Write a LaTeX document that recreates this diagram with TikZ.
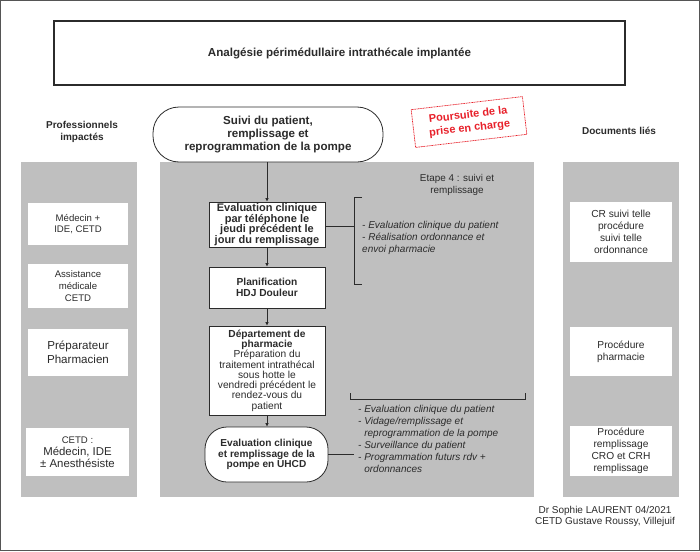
\documentclass[tikz,border=0pt]{standalone}
\usepackage{fontspec}
\setmainfont{Liberation Sans}
\usetikzlibrary{arrows.meta}
\definecolor{panel}{HTML}{BFBFBF}
\definecolor{ink}{HTML}{2B2B2B}
\definecolor{frame}{HTML}{555555}
\definecolor{stamp}{HTML}{E8202A}
\tikzset{
  panelbox/.style={fill=panel, draw=none},
  whitebox/.style={fill=white, draw=none, inner sep=0pt, align=center, text=ink},
  flowbox/.style={fill=white, draw=ink, line width=0.8pt, inner sep=0pt, align=center, text=ink},
  stadium/.style={flowbox, rounded corners=26pt},
  conn/.style={draw=ink, line width=0.8pt},
  arr/.style={conn, -{Latex[length=3.5pt,width=3.5pt]}},
  heading/.style={align=center, text=ink, font=\fontsize{10}{12}\selectfont\bfseries},
  note/.style={align=left, text=ink, inner sep=0pt, font=\fontsize{10}{12}\selectfont\itshape},
  plain/.style={align=center, text=ink, inner sep=0pt, font=\fontsize{10}{11.5}\selectfont},
}
\begin{document}
\begin{tikzpicture}[x=1pt,y=-1pt]
\useasboundingbox (0,0) rectangle (700,551);
\fill[white] (0,0) rectangle (700,551);
\draw[frame, line width=1pt] (0.5,0.5) rectangle (699.5,550.5);

% title
\node[draw=ink, line width=1.2pt, minimum width=571pt, minimum height=64pt, inner sep=0pt,
      font=\fontsize{11.6}{13}\selectfont\bfseries, text=ink] (title) at (339.5,53) {Analgésie périmédullaire intrathécale implantée};

% headings
\node[heading] (hprof) at (82,132) {Professionnels\\impactés};
\node[heading] (hdoc) at (619,131) {Documents liés};

% panels
\fill[panelbox] (21,162) rectangle (137,497);
\fill[panelbox] (160,162) rectangle (534,497);
\fill[panelbox] (563,162) rectangle (679,497);

% stamp
\node[draw=stamp, line width=0.7pt, dash pattern=on 1pt off 0.6pt, rotate=6.7,
      minimum width=112pt, minimum height=38pt, inner sep=0pt, align=center, text=stamp,
      font=\fontsize{11}{13.5}\selectfont\bfseries] (stampbox) at (469,122) {Poursuite de la\\prise en charge};

% flow
\node[stadium, minimum width=230pt, minimum height=55pt, font=\fontsize{11.6}{13}\selectfont\bfseries] (start) at (268,134.5)
  {Suivi du patient,\\remplissage et\\reprogrammation de la pompe};
\node[flowbox, minimum width=116pt, minimum height=45pt, font=\fontsize{11}{10.6}\selectfont\bfseries] (eval) at (267,224.5)
  {Evaluation clinique\\par téléphone le\\jeudi précédent le\\jour du remplissage};
\node[flowbox, minimum width=116pt, minimum height=41pt, font=\fontsize{10.2}{10.5}\selectfont\bfseries] (planif) at (267,287.5)
  {Planification\\HDJ Douleur};
\node[flowbox, minimum width=116pt, minimum height=89pt, font=\fontsize{10.2}{10.3}\selectfont] (dept) at (267,370.5)
  {\textbf{Département de}\\\textbf{pharmacie}\\Préparation du\\traitement intrathécal\\sous hotte le\\vendredi précédent le\\rendez-vous du\\patient};
\node[stadium, rounded corners=22pt, minimum width=123pt, minimum height=55pt, font=\fontsize{10.1}{10.5}\selectfont\bfseries] (final) at (266.5,454.5)
  {Evaluation clinique\\et remplissage de la\\pompe en UHCD};

\draw[arr] (start.south -| eval.north) -- (eval.north);
\draw[arr] (eval) -- (planif);
\draw[arr] (planif) -- (dept);
\draw[arr] (dept.south) -- (dept.south |- final.north);

% step label
\node[plain, font=\fontsize{9.9}{12}\selectfont] (etape) at (457,185) {Etape 4 : suivi et\\remplissage};

% bracket 1
\coordinate (b1top) at (354,197);
\coordinate (b1bot) at (354,284);
\coordinate (b1mid) at (354,226);
\draw[conn] ([xshift=8pt]b1top) -- (b1top) -- (b1bot) -- ([xshift=8pt]b1bot);
\draw[conn] (eval.east |- b1mid) -- (b1mid);
\node[note, anchor=north west] (note1) at (362,221.5)
  {- Evaluation clinique du patient\\- Réalisation ordonnance et\\envoi pharmacie};

% bracket 2
\coordinate (b2l) at (350,399);
\coordinate (b2r) at (525,399);
\draw[conn] ([yshift=6pt]b2l) -- (b2l) -- (b2r) -- ([yshift=6pt]b2r);
\coordinate (b2stub) at (354,454.5);
\draw[conn] (final.east) -- (b2stub);
\node[note, anchor=north west] (note2) at (358,405.5)
  {- Evaluation clinique du patient\\- Vidage/remplissage et\\\phantom{- }reprogrammation de la pompe\\- Surveillance du patient\\- Programmation futurs rdv +\\\phantom{- }ordonnances};

% left boxes
\node[whitebox, minimum width=100pt, minimum height=42pt, font=\fontsize{9.6}{11.5}\selectfont] (p1) at (78,224) {Médecin +\\IDE, CETD};
\node[whitebox, minimum width=100pt, minimum height=44pt, font=\fontsize{9.6}{12}\selectfont] (p2) at (78,286) {Assistance\\médicale\\CETD};
\node[whitebox, minimum width=100pt, minimum height=47pt, font=\fontsize{11.6}{14}\selectfont] (p3) at (78,352.5) {Préparateur\\Pharmacien};
\node[whitebox, minimum width=103pt, minimum height=48pt] (p4) at (77.5,452)
  {{\fontsize{9.6}{13}\selectfont CETD :}\\{\fontsize{11.4}{13.5}\selectfont Médecin, IDE}\\{\fontsize{11.4}{13.5}\selectfont ± Anesthésiste}};

% right boxes
\node[whitebox, minimum width=102pt, minimum height=60pt, font=\fontsize{10.2}{12}\selectfont] (d1) at (621,232) {CR suivi telle\\procédure\\suivi telle\\ordonnance};
\node[whitebox, minimum width=102pt, minimum height=49pt, font=\fontsize{10.2}{12}\selectfont] (d2) at (621,351.5) {Procédure\\pharmacie};
\node[whitebox, minimum width=102pt, minimum height=50pt, font=\fontsize{10.2}{12}\selectfont] (d3) at (621,451) {Procédure\\remplissage\\CRO et CRH\\remplissage};

% footer
\node[plain, font=\fontsize{10}{11.5}\selectfont] (footer) at (605,516.5) {Dr Sophie LAURENT 04/2021\\CETD Gustave Roussy, Villejuif};
\end{tikzpicture}
\end{document}
